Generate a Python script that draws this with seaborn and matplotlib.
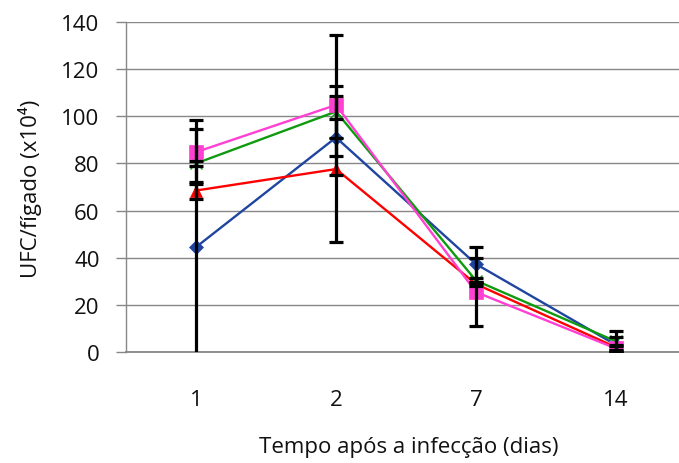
import matplotlib
matplotlib.use("Agg")
import matplotlib.pyplot as plt
import seaborn as sns
import pandas as pd
import numpy as np

# Days after infection (categorical axis)
days = ["1", "2", "7", "14"]

# Mean CFU per liver (x10^4) for each group
blue_vals = [44.5, 91.0, 37.3, 3.0]
red_vals = [68.5, 77.6, 28.8, 2.0]
green_vals = [80.0, 102.0, 30.3, 4.5]
magenta_vals = [84.8, 104.8, 25.4, 1.5]

# Standard deviations
blue_err = [50.0, 7.8, 7.4, 3.4]
red_err = [3.5, 31.0, 1.0, 1.0]
green_err = [1.0, 11.0, 1.0, 4.5]
magenta_err = [13.6, 29.5, 14.5, 1.0]

groups = ["A", "B", "C", "D"]
values = [blue_vals, red_vals, green_vals, magenta_vals]
errors = [blue_err, red_err, green_err, magenta_err]
colors = ["#1F45A0", "#FF0000", "#0F9A0F", "#FF40D2"]
markers = ["D", "^", "x", "s"]
msizes = [7, 9, 9, 10]

sns.set_theme(style="white")
plt.rcParams["font.family"] = ["Open Sans", "DejaVu Sans"]

fig = plt.figure(figsize=(6.79, 4.64), dpi=100)
ax = fig.add_axes([126 / 679, 1 - 353 / 464, 1 - 126 / 679, 330 / 464])

pos = np.arange(len(days))
frames = []
for g, v in zip(groups, values):
    frames.append(pd.DataFrame({"pos": pos, "value": v, "group": g}))
df = pd.concat(frames, ignore_index=True)

for g, c, m, ms in zip(groups, colors, markers, msizes):
    sub = df[df["group"] == g]
    sns.lineplot(data=sub, x="pos", y="value", color=c, marker=m,
                 markersize=ms, markeredgecolor=c,
                 markeredgewidth=1.0 if m == "x" else 0.5,
                 linewidth=1.7, ax=ax, zorder=3)

for v, e in zip(values, errors):
    ax.errorbar(pos, v, yerr=e, fmt="none", ecolor="black",
                elinewidth=2.3, capsize=5, capthick=2.3, zorder=5)

ax.set_xlim(-0.5, 3.45)
ax.set_ylim(0, 140)
ax.set_yticks(np.arange(0, 141, 20))
ax.set_xticks(pos)
ax.set_xticklabels(days)

ax.yaxis.grid(True, color="#878787", linewidth=1.0)
ax.set_axisbelow(True)
for s in ["top", "right"]:
    ax.spines[s].set_visible(False)
ax.spines["left"].set_color("#878787")
ax.spines["bottom"].set_color("#878787")
ax.spines["left"].set_linewidth(1.0)
ax.spines["bottom"].set_linewidth(1.3)

fs = 16
ax.tick_params(axis="y", which="both", left=True, length=7, width=1.0,
               color="#878787", pad=12, labelsize=fs, labelcolor="#111111")
ax.tick_params(axis="x", which="both", bottom=False, pad=21,
               labelsize=fs, labelcolor="#111111")

ax.set_xlabel("Tempo após a infecção (dias)", fontsize=fs, color="#111111")
ax.set_ylabel("UFC/fígado (x10⁴)", fontsize=fs, color="#111111")
ax.xaxis.set_label_coords((409 - 126) / 553, -(437 - 353) / 330)
ax.yaxis.set_label_coords(-(126 - 42) / 553, (353 - 189) / 330)

fig.savefig("out.png", dpi=100)
